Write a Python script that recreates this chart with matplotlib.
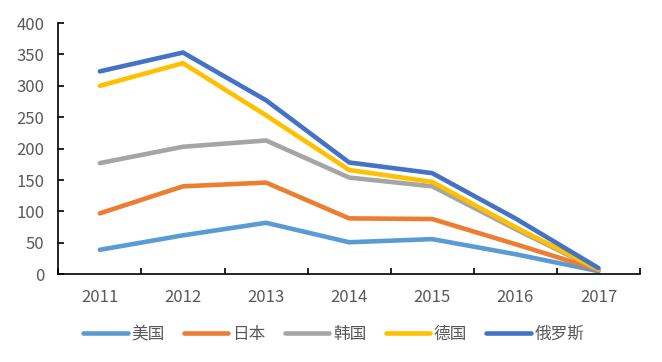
import matplotlib
matplotlib.use("Agg")
import matplotlib.pyplot as plt
import numpy as np

plt.rcParams['font.family'] = ['Noto Sans CJK SC', 'DejaVu Sans']

years = ["2011", "2012", "2013", "2014", "2015", "2016", "2017"]
series_names = ["美国", "日本", "韩国", "德国", "俄罗斯"]
usa = [39, 62, 82, 51, 56, 32, 5]
japan = [97, 140, 146, 89, 88, 48, 7]
korea = [177, 203, 213, 154, 140, 72, 7]
germany = [300, 336, 253, 166, 147, 75, 8]
russia = [323, 353, 277, 178, 161, 89, 10]
colors = ["#5B9BD5", "#ED7D31", "#A5A5A5", "#FFC000", "#4472C4"]
yticks = [0, 50, 100, 150, 200, 250, 300, 350, 400]

W, H = 662, 362
fig = plt.figure(figsize=(W/100, H/100), dpi=100)
ax = fig.add_axes([58.3/W, 1-274.3/H, (640-58.3)/W, (274.3-23)/H])

x = np.arange(len(years))
lines = []
for vals, name, c in zip([usa, japan, korea, germany, russia], series_names, colors):
    ln, = ax.plot(x, vals, color=c, lw=3.3, label=name, solid_capstyle='round', solid_joinstyle='round')
    lines.append(ln)

ax.set_xlim(-0.5, len(years)-0.5)
ax.set_ylim(0, 400)
ax.set_yticks(yticks)
ax.set_xticks(x)
ax.set_xticklabels(years)
ax.set_xticks(np.arange(-0.5, len(years), 1.0), minor=True)
ax.tick_params(axis='x', which='major', length=0, pad=10.5, labelsize=12, labelcolor='#595959')
ax.tick_params(axis='x', which='minor', direction='in', length=4, width=1.2, color='#000000')
ax.tick_params(axis='y', direction='in', length=4, width=1.2, labelsize=12, labelcolor='#595959', pad=10)
for s in ['top', 'right']:
    ax.spines[s].set_visible(False)
for s in ['left', 'bottom']:
    ax.spines[s].set_linewidth(1.2)
    ax.spines[s].set_color('#000000')

fig.legend(handles=lines, loc='center', bbox_to_anchor=(334/W, 1-334/H), ncol=5,
           frameon=False, fontsize=12, handlelength=2.65, handletextpad=0.25,
           columnspacing=1.15, labelcolor='#595959')

fig.savefig("out.png", dpi=100)
